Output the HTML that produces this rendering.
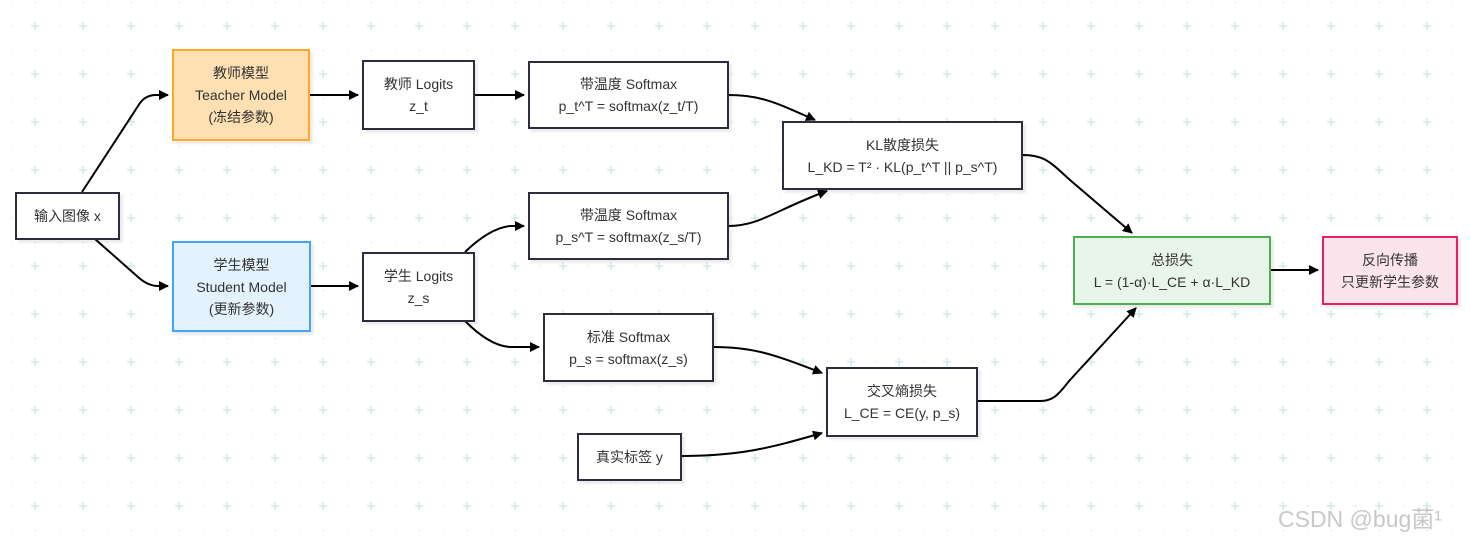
<!DOCTYPE html>
<html><head><meta charset="utf-8"><style>
html,body{margin:0;padding:0;}
body{width:1471px;height:544px;position:relative;overflow:hidden;background:#fff;font-family:"Liberation Sans","Noto Sans CJK SC",sans-serif;color:#333;}
.b{position:absolute;box-sizing:border-box;border:2px solid #2c2c3c;background:#fff;display:flex;flex-direction:column;align-items:center;justify-content:center;text-align:center;font-size:14px;line-height:22px;box-shadow:3px 3px 2px rgba(0,0,0,0.08);}
svg{position:absolute;left:0;top:0;}
.wm{position:absolute;left:1278px;top:500px;font-size:23px;color:#c8c8c8;font-family:"Liberation Sans","Noto Sans CJK SC",sans-serif;}
</style></head><body>
<svg width="1471" height="544">
<defs>
<pattern id="g" x="11" y="2" width="48" height="48" patternUnits="userSpaceOnUse">
<circle cx="0" cy="0" r="1.2" fill="#d3e8ea"/><circle cx="24" cy="0" r="1.2" fill="#d3e8ea"/><circle cx="0" cy="24" r="1.2" fill="#d3e8ea"/>
<path d="M20 24h8M24 20v8" stroke="#d3e8ea" stroke-width="1.5"/>
</pattern>
<marker id="a" markerWidth="10" markerHeight="10" refX="9" refY="5" orient="auto" markerUnits="userSpaceOnUse"><path d="M0,0 L10,5 L0,10 z" fill="#000"/></marker>
</defs>
<rect width="1471" height="544" fill="url(#g)"/>
<g fill="none" stroke="#000" stroke-width="2" marker-end="url(#a)">
<path d="M82,192 L140,103 Q146,95 156,95 L168,95"/>
<path d="M95,239 L138,277 Q148,286 158,286 L168,286"/>
<path d="M309,95 L358,95"/>
<path d="M310,286 L358,286"/>
<path d="M474,95 L524,95"/>
<path d="M465,252 Q490,228 510,226 L524,226"/>
<path d="M465,321 Q490,346 510,347 L539,347"/>
<path d="M728,95 C760,95 775,102 815,120"/>
<path d="M728,226 C760,226 775,210 827,191"/>
<path d="M713,347 C755,347 775,355 822,373"/>
<path d="M681,456 C740,456 770,448 822,433"/>
<path d="M1022,155 C1045,155 1050,162 1070,180 L1132,233"/>
<path d="M977,401 L1040,401 C1055,401 1060,392 1070,380 L1136,308"/>
<path d="M1270,270 L1318,270"/>
</g>
</svg>
<div class="b" style="left:15px;top:192px;width:105px;height:48px;">输入图像 x</div>
<div class="b" style="left:172px;top:49px;width:138px;height:92px;background:#fee0b2;border-color:#ffa726;"><div>教师模型</div><div>Teacher Model</div><div>(冻结参数)</div></div>
<div class="b" style="left:172px;top:241px;width:139px;height:91px;background:#e3f2fd;border-color:#42a5f5;"><div>学生模型</div><div>Student Model</div><div>(更新参数)</div></div>
<div class="b" style="left:362px;top:60px;width:113px;height:70px;"><div>教师 Logits</div><div>z_t</div></div>
<div class="b" style="left:362px;top:252px;width:113px;height:70px;"><div>学生 Logits</div><div>z_s</div></div>
<div class="b" style="left:528px;top:61px;width:201px;height:68px;"><div>带温度 Softmax</div><div>p_t^T = softmax(z_t/T)</div></div>
<div class="b" style="left:528px;top:192px;width:201px;height:68px;"><div>带温度 Softmax</div><div>p_s^T = softmax(z_s/T)</div></div>
<div class="b" style="left:543px;top:313px;width:171px;height:69px;"><div>标准 Softmax</div><div>p_s = softmax(z_s)</div></div>
<div class="b" style="left:782px;top:121px;width:241px;height:69px;"><div>KL散度损失</div><div>L_KD = T² · KL(p_t^T || p_s^T)</div></div>
<div class="b" style="left:826px;top:367px;width:152px;height:70px;"><div>交叉熵损失</div><div>L_CE = CE(y, p_s)</div></div>
<div class="b" style="left:577px;top:433px;width:105px;height:48px;">真实标签 y</div>
<div class="b" style="left:1073px;top:236px;width:198px;height:69px;background:#e8f5e9;border-color:#4caf50;"><div>总损失</div><div>L = (1-α)·L_CE + α·L_KD</div></div>
<div class="b" style="left:1322px;top:236px;width:136px;height:69px;background:#fce4ec;border-color:#e91e63;"><div>反向传播</div><div>只更新学生参数</div></div>
<div class="wm">CSDN @bug菌¹</div>
</body></html>
